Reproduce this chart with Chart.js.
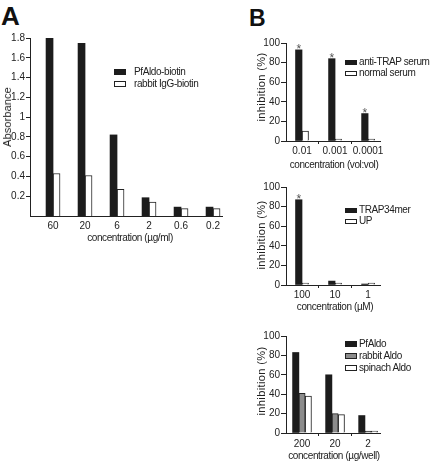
<!DOCTYPE html>
<html>
<head>
<meta charset="utf-8">
<script src="https://cdn.jsdelivr.net/npm/chart.js@4.4.1/dist/chart.umd.min.js"></script>
<style>
  body { margin: 0; background: #fff; }
  #fig { position: relative; width: 432px; height: 466px; overflow: hidden; background: #fff;
         font-family: "Liberation Sans", Arial, sans-serif; color: #222; }
  #fig canvas { position: absolute; }
  .t { position: absolute; white-space: nowrap; font-size: 10px; letter-spacing: -0.4px; line-height: 12px; transform: translate(-50%, -50%); }
  .rot { transform: translate(-50%, -50%) rotate(-90deg); font-size: 11px; letter-spacing: 0.4px; }
  .letter { position: absolute; font-weight: bold; line-height: 1; color: #111; }
  .leg { position: absolute; white-space: nowrap; font-size: 10px; letter-spacing: -0.4px; line-height: 12px; transform: translateY(-50%); }
  .sw { display: inline-block; width: 12px; height: 6px; box-sizing: border-box; margin-right: 2px; vertical-align: 0px; }
</style>
</head>
<body>
<div id="fig">
  <div class="letter" style="left:1px;top:3px;font-size:26px;">A</div>
  <div class="letter" style="left:249px;top:7px;font-size:23px;">B</div>

  <canvas id="chartA" width="240" height="250" style="left:0;top:0;"></canvas>
  <canvas id="chartB1" width="212" height="160" style="left:220px;top:0;"></canvas>
  <canvas id="chartB2" width="212" height="150" style="left:220px;top:150px;"></canvas>
  <canvas id="chartB3" width="212" height="166" style="left:220px;top:300px;"></canvas>

  <!-- axis titles -->
  <div class="t rot" style="left:7px;top:117px;letter-spacing:0.1px;">Absorbance</div>
  <div class="t" style="left:130px;top:238px;">concentration (&micro;g/ml)</div>
  <div class="t rot" style="left:261px;top:87px;">inhibition (%)</div>
  <div class="t" style="left:334px;top:165px;">concentration (vol:vol)</div>
  <div class="t rot" style="left:261px;top:235px;">inhibition (%)</div>
  <div class="t" style="left:335px;top:307px;">concentration (&micro;M)</div>
  <div class="t rot" style="left:261px;top:381px;">inhibition (%)</div>
  <div class="t" style="left:334px;top:456px;">concentration (&micro;g/well)</div>

  <!-- legends -->
  <div class="leg" style="left:114px;top:72px;"><span class="sw" style="background:#1c1c1c"></span><span style="margin-left:6px">PfAldo-biotin</span></div>
  <div class="leg" style="left:114px;top:84px;"><span class="sw" style="background:#fff;border:1px solid #222"></span><span style="margin-left:6px">rabbit IgG-biotin</span></div>

  <div class="leg" style="left:345px;top:62px;"><span class="sw" style="background:#1c1c1c;height:5px"></span>anti-TRAP serum</div>
  <div class="leg" style="left:345px;top:73px;"><span class="sw" style="background:#fff;border:1px solid #222;height:5px"></span>normal serum</div>

  <div class="leg" style="left:345px;top:210px;"><span class="sw" style="background:#1c1c1c;height:5px"></span>TRAP34mer</div>
  <div class="leg" style="left:345px;top:221px;"><span class="sw" style="background:#fff;border:1px solid #222;height:5px"></span>UP</div>

  <div class="leg" style="left:345px;top:344px;"><span class="sw" style="background:#1c1c1c"></span>PfAldo</div>
  <div class="leg" style="left:345px;top:356px;"><span class="sw" style="background:#8c8c8c;border:1px solid #222"></span>rabbit Aldo</div>
  <div class="leg" style="left:345px;top:368px;"><span class="sw" style="background:#fff;border:1px solid #222"></span>spinach Aldo</div>
</div>

<script>
// panel A
const concA = ['60', '20', '6', '2', '0.6', '0.2'];
const pfAldoBiotin = [1.80, 1.745, 0.82, 0.185, 0.09, 0.09];
const rabbitIgGBiotin = [0.43, 0.41, 0.27, 0.14, 0.075, 0.075];
const absTicks = [0.2, 0.4, 0.6, 0.8, 1, 1.2, 1.4, 1.6, 1.8];

// panel B, top
const concSerum = ['0.01', '0.001', '0.0001'];
const antiTrapSerum = [93, 84, 28];
const normalSerum = [10, 2, 2];
const antiTrapSig = [true, true, true];

// panel B, middle
const concPeptide = ['100', '10', '1'];
const trap34mer = [87, 4, 1];
const upPeptide = [2, 2, 2];
const trap34Sig = [true, false, false];

// panel B, bottom
const concAldo = ['200', '20', '2'];
const pfAldo = [83, 60, 18];
const rabbitAldo = [41, 20, 2];
const spinachAldo = [38, 19, 2];

const inhTicks = [0, 20, 40, 60, 80, 100];

const FONT = '"Liberation Sans", Arial, sans-serif';
const INK = '#222';
const BLACK = '#1c1c1c';
const GRAY = '#8c8c8c';

// asterisks above the significant bars of dataset 0
const starPlugin = {
    id: 'stars',
    afterDatasetsDraw(chart, args, opts) {
        if (!opts.flags) return;
        const meta = chart.getDatasetMeta(0);
        const ctx = chart.ctx;
        ctx.save();
        ctx.fillStyle = '#555';
        ctx.font = '12px ' + FONT;
        ctx.textAlign = 'center';
        ctx.textBaseline = 'alphabetic';
        opts.flags.forEach((f, i) => {
            if (!f) return;
            const bar = meta.data[i];
            ctx.fillText('*', bar.x, bar.y + 3);
        });
        ctx.restore();
    }
};

function pts(values) {
    return values.map((v, i) => ({ x: i + 1, y: v }));
}

function blackSet(label, values, thick) {
    return { label, data: pts(values), backgroundColor: BLACK, borderWidth: 0, barThickness: thick };
}
function boxSet(label, values, thick, fill) {
    return { label, data: pts(values), backgroundColor: fill, borderColor: INK, borderWidth: 1, barThickness: thick };
}

function makeChart(id, o) {
    const cats = o.cats;
    return new Chart(document.getElementById(id), {
        type: 'bar',
        data: { datasets: o.datasets },
        plugins: [starPlugin],
        options: {
            responsive: false,
            animation: false,
            devicePixelRatio: 1,
            layout: { padding: o.padding },
            plugins: {
                legend: { display: false },
                tooltip: { enabled: false },
                stars: { flags: o.stars }
            },
            scales: {
                x: {
                    type: 'linear',
                    min: o.xmin,
                    max: o.xmax,
                    offset: false,
                    afterFit: s => { s.height = o.xh; },
                    afterBuildTicks: s => { s.ticks = cats.map((c, i) => ({ value: i + 1 })); },
                    ticks: {
                        callback: v => cats[Math.round(v) - 1],
                        font: { family: FONT, size: 10 },
                        color: INK,
                        padding: o.xpad,
                        maxRotation: 0,
                        autoSkip: false
                    },
                    grid: o.xTickMarks
                        ? { display: true, drawOnChartArea: false, drawTicks: true, tickLength: 3, color: INK }
                        : { display: false, drawTicks: false },
                    border: { display: true, color: INK, width: 1 }
                },
                y: {
                    min: 0,
                    max: o.ymax,
                    afterFit: s => { s.width = o.yw; },
                    afterBuildTicks: s => { s.ticks = o.yticks.map(v => ({ value: v })); },
                    ticks: {
                        callback: v => String(+v.toFixed(1)),
                        font: { family: FONT, size: 10 },
                        color: INK,
                        padding: 1
                    },
                    grid: { display: true, drawOnChartArea: false, drawTicks: true, tickLength: o.ytl, color: INK },
                    border: { display: true, color: INK, width: 1 }
                }
            }
        }
    });
}

makeChart('chartA', {
    cats: concA,
    datasets: [
        blackSet('PfAldo-biotin', pfAldoBiotin, 7),
        boxSet('rabbit IgG-biotin', rabbitIgGBiotin, 7, '#fff')
    ],
    padding: { left: 0, top: 38, right: 18, bottom: 0 },
    xmin: 0.28, xmax: 6.28, xh: 34, xpad: 4, xTickMarks: false,
    ymax: 1.8, yticks: absTicks, yw: 30, ytl: 4
});

makeChart('chartB1', {
    cats: concSerum,
    datasets: [
        blackSet('anti-TRAP serum', antiTrapSerum, 6.5),
        boxSet('normal serum', normalSerum, 6.5, '#fff')
    ],
    stars: antiTrapSig,
    padding: { left: 0, top: 43, right: 52, bottom: 0 },
    xmin: 0.515, xmax: 3.36, xh: 19, xpad: 1.5, xTickMarks: true,
    ymax: 100, yticks: inhTicks, yw: 66, ytl: 5
});

makeChart('chartB2', {
    cats: concPeptide,
    datasets: [
        blackSet('TRAP34mer', trap34mer, 6.5),
        boxSet('UP', upPeptide, 6.5, '#fff')
    ],
    stars: trap34Sig,
    padding: { left: 0, top: 37, right: 52, bottom: 0 },
    xmin: 0.515, xmax: 3.36, xh: 15, xpad: 1.5, xTickMarks: true,
    ymax: 100, yticks: inhTicks, yw: 66, ytl: 5
});

makeChart('chartB3', {
    cats: concAldo,
    datasets: [
        blackSet('PfAldo', pfAldo, 6.3),
        boxSet('rabbit Aldo', rabbitAldo, 6.3, GRAY),
        boxSet('spinach Aldo', spinachAldo, 6.3, '#fff')
    ],
    padding: { left: 0, top: 36, right: 52, bottom: 0 },
    xmin: 0.515, xmax: 3.36, xh: 33, xpad: 2, xTickMarks: true,
    ymax: 100, yticks: inhTicks, yw: 66, ytl: 5
});
</script>
</body>
</html>
